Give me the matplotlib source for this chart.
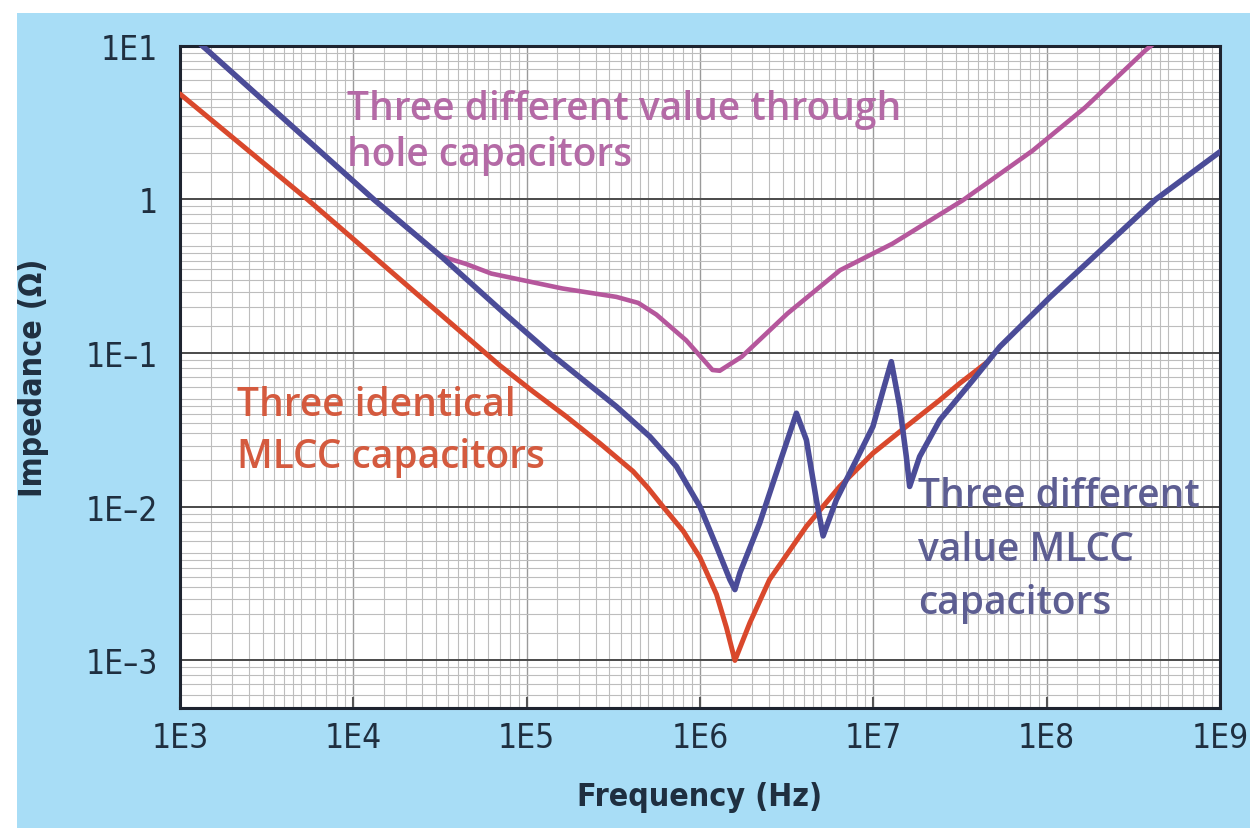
import matplotlib.pyplot as plt
import numpy as np
from matplotlib.patches import Rectangle
from matplotlib.ticker import LogLocator, FixedLocator, NullFormatter
from matplotlib import font_manager as fm

# frequency (Hz) and impedance (ohm)
red_f = [1.0e3, 5.43e3, 7.0e4, 1.09e5, 1.70e5, 2.64e5, 4.11e5, 5.0e5, 6.12e5, 8.0e5,
         1.0e6, 1.245e6, 1.42e6, 1.59e6, 1.94e6, 2.52e6, 4.11e6, 6.4e6, 9.95e6, 1.55e7,
         2.42e7, 3.15e7, 4.47e7]
red_z = [4.85, 1.0, 0.083, 0.0561, 0.0385, 0.0259, 0.0170, 0.0133, 0.0100, 0.00695,
         0.00467, 0.00269, 0.00164, 0.00100, 0.00176, 0.00336, 0.00745, 0.01355, 0.0223, 0.0333,
         0.0495, 0.0635, 0.0861]

blue_f = [1.0e3, 1.41e3, 1.31e4, 3.2e4, 7.66e4, 1.36e5, 2.12e5, 3.3e5, 5.14e5, 7.31e5,
          1.0e6, 1.245e6, 1.486e6, 1.59e6, 1.70e6, 2.21e6, 2.88e6, 3.6e6, 4.11e6, 4.69e6,
          5.13e6, 6.12e6, 7.98e6, 9.95e6, 1.14e7, 1.27e7, 1.42e7, 1.55e7, 1.62e7, 1.85e7,
          2.42e7, 3.76e7, 5.37e7, 1.05e8, 4.26e8, 1.0e9]
blue_z = [13.4, 9.53, 1.0, 0.427, 0.176, 0.1, 0.0668, 0.0448, 0.0286, 0.0183,
          0.0100, 0.00552, 0.00336, 0.00289, 0.00372, 0.00783, 0.0192, 0.0406, 0.0272, 0.0111,
          0.00646, 0.0111, 0.0202, 0.0333, 0.0575, 0.0879, 0.0448, 0.0212, 0.01355, 0.0212,
          0.0367, 0.0668, 0.110, 0.232, 1.0, 2.04]

purple_f = [1.0e3, 1.41e3, 1.31e4, 3.2e4, 4.47e4, 6.25e4, 1.61e5, 3.29e5, 4.4e5, 5.6e5,
            8.32e5, 1.18e6, 1.30e6, 1.74e6, 3.2e6, 6.43e6, 1.29e7, 3.28e7, 8.32e7, 1.67e8,
            3.7e8, 5.0e8]
purple_z = [13.4, 9.53, 1.0, 0.427, 0.380, 0.329, 0.263, 0.232, 0.212, 0.178,
            0.121, 0.0776, 0.0767, 0.0946, 0.181, 0.346, 0.515, 0.986, 2.08, 3.97,
            9.29, 12.3]

x_ticks = [1e3, 1e4, 1e5, 1e6, 1e7, 1e8, 1e9]
x_labels = ['1E3', '1E4', '1E5', '1E6', '1E7', '1E8', '1E9']
y_ticks = [1e-3, 1e-2, 1e-1, 1, 10]
y_labels = ['1E\u20133', '1E\u20132', '1E\u20131', '1', '1E1']

bg = '#a8ddf6'
red = '#d9482c'
blue = '#4b4c98'
purple = '#b5579c'
ink = '#1f2f40'

WEIGHTS = {'thin': 100, 'light': 300, 'normal': 400, 'regular': 400, 'book': 400,
           'medium': 500, 'semibold': 600, 'demibold': 600, 'bold': 700, 'heavy': 800, 'black': 900}
STRETCH_RANK = {'condensed': 0, 'semi-condensed': 1, 'extra-condensed': 2, 'ultra-condensed': 3}
FAMILY_RANK = ['Liberation Sans Narrow', 'DejaVu Sans', 'Noto Sans', 'Roboto', 'Open Sans']


# the original uses a condensed grotesque, look for a narrow sans face
def narrow_font(bold):
    best, best_key = None, None
    for f in fm.fontManager.ttflist:
        name = f.name
        if 'Serif' in name or 'Mono' in name or 'CJK' in name:
            continue
        st = f.stretch if isinstance(f.stretch, str) else ''
        is_narrow = 'Narrow' in name or 'Condensed' in name or st in STRETCH_RANK
        if not is_narrow or 'Sans' not in name and 'Roboto' not in name:
            continue
        if 'italic' in f.style or 'oblique' in f.style:
            continue
        w = f.weight if isinstance(f.weight, int) else WEIGHTS.get(str(f.weight).lower(), 400)
        target = 700 if bold else 400
        fam = next((i for i, n in enumerate(FAMILY_RANK) if name.startswith(n)), 9)
        key = (abs(w - target), STRETCH_RANK.get(st, 1), fam, len(name))
        if best_key is None or key < best_key:
            best, best_key = f, key
    if best is None:
        return fm.FontProperties(family='DejaVu Sans', weight='bold' if bold else 'normal')
    return fm.FontProperties(fname=best.fname)


tick_fp = narrow_font(False)
tick_fp.set_size(24)
lab_fp = narrow_font(True)
lab_fp.set_size(23)

fig = plt.figure(figsize=(12.5, 8.29), dpi=100, facecolor='white')
fig.patches.append(Rectangle((17/1250, 0), 1, 1 - 14/829, transform=fig.transFigure,
                             facecolor=bg, edgecolor='none', zorder=-10))
ax = fig.add_axes([0.144, 0.1447, 0.832, 0.799])
ax.set_facecolor('white')

ax.set_xscale('log')
ax.set_yscale('log')
ax.set_xlim(1e3, 1e9)
ax.set_ylim(4.9e-4, 10)

# log paper grid
subs = [1.5, 2, 2.5, 3, 3.5, 4, 4.5, 5, 6, 7, 8, 9]
ax.xaxis.set_minor_locator(LogLocator(base=10, subs=subs, numticks=50))
ax.yaxis.set_minor_locator(LogLocator(base=10, subs=subs, numticks=50))
ax.xaxis.set_minor_formatter(NullFormatter())
ax.yaxis.set_minor_formatter(NullFormatter())
ax.grid(True, which='minor', color='#bdbdbd', lw=0.8)
ax.grid(True, which='major', axis='x', color='#9a9a9a', lw=1.0)
ax.grid(True, which='major', axis='y', color='#4a4a4a', lw=1.4)
ax.set_axisbelow(True)

ax.plot(purple_f, purple_z, color=purple, lw=3.3, solid_capstyle='round', solid_joinstyle='round', zorder=3)
ax.plot(red_f, red_z, color=red, lw=3.6, solid_capstyle='round', solid_joinstyle='round', zorder=4)
ax.plot(blue_f, blue_z, color=blue, lw=4.0, solid_capstyle='round', solid_joinstyle='round', zorder=5)

ax.xaxis.set_major_locator(FixedLocator(x_ticks))
ax.yaxis.set_major_locator(FixedLocator(y_ticks))
ax.set_xticklabels(x_labels, fontproperties=tick_fp, color=ink)
ax.set_yticklabels(y_labels, fontproperties=tick_fp, color=ink)
ax.tick_params(axis='x', which='major', direction='in', length=8, width=1.5, color='#555555', pad=9)
ax.tick_params(axis='y', which='major', length=0, pad=16)
ax.tick_params(which='minor', length=0)

for s in ax.spines.values():
    s.set_color('#1e2430')
    s.set_linewidth(2.2)

ax.set_xlabel('Frequency (Hz)', fontproperties=lab_fp, color=ink, labelpad=20)
ax.set_ylabel('Impedance (\u03a9)', fontproperties=lab_fp, color=ink, labelpad=26)

note_font = dict(family=['Open Sans', 'DejaVu Sans'], size=28, weight='semibold')
ax.text(0.161, 0.935, 'Three different value through\nhole capacitors', transform=ax.transAxes,
        color='#b46aa6', va='top', ha='left', linespacing=1.2, zorder=2, **note_font)
ax.text(0.055, 0.487, 'Three identical\nMLCC capacitors', transform=ax.transAxes,
        color='#d45a3e', va='top', ha='left', linespacing=1.4, zorder=2, **note_font)
ax.text(0.71, 0.35, 'Three different\nvalue MLCC\ncapacitors', transform=ax.transAxes,
        color='#5d5e92', va='top', ha='left', linespacing=1.45, zorder=2, **note_font)

fig.savefig('out.png', dpi=100, facecolor=fig.get_facecolor())
